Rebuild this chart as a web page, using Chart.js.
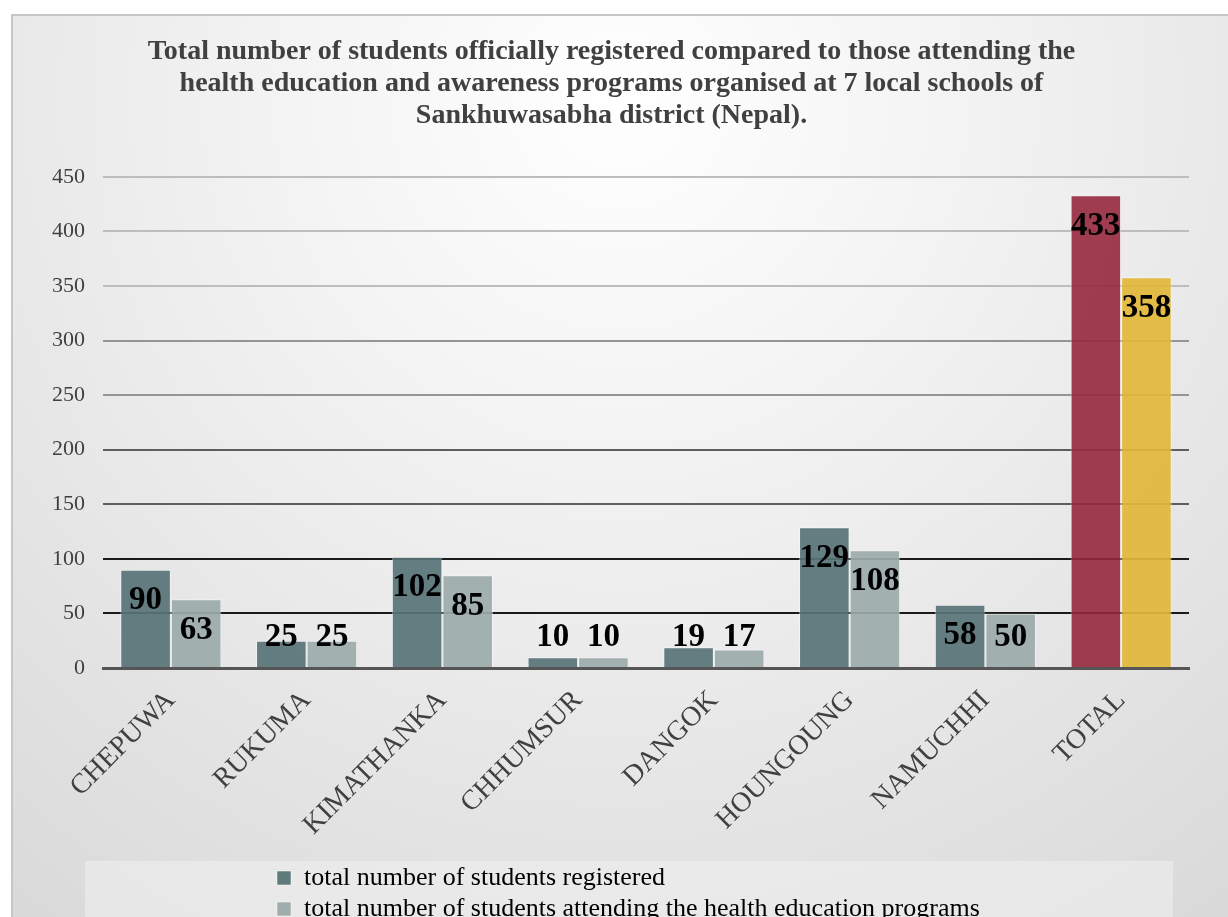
<!DOCTYPE html>
<html lang="en">
<head>
  <meta charset="UTF-8">
  <script src="https://cdn.jsdelivr.net/npm/chart.js"></script>
  <title>Students registered vs attending</title>
  <style>
    html, body { margin: 0; padding: 0; background: #ffffff; }
    #wrap { width: 1228px; height: 917px; }
  </style>
</head>
<body>
  <div id="wrap"><canvas id="chart"></canvas></div>
  <script>
    // data
    const schools = ['CHEPUWA', 'RUKUMA', 'KIMATHANKA', 'CHHUMSUR', 'DANGOK', 'HOUNGOUNG', 'NAMUCHHI', 'TOTAL'];
    const registered = [90, 25, 102, 10, 19, 129, 58, 433];
    const attending = [63, 25, 85, 10, 17, 108, 50, 358];
    const seriesNames = ['total number of students registered', 'total number of students attending the health education programs'];
    const titleLines = [
      'Total number of students officially registered compared to those attending the',
      'health education and awareness programs organised at 7 local schools of',
      'Sankhuwasabha district (Nepal).'
    ];

    const SERIF = '"Liberation Serif", "Times New Roman", serif';
    const regColors = schools.map((s, i) => i === schools.length - 1 ? 'rgba(150,40,62,0.9)' : 'rgba(88,115,118,0.92)');
    const attColors = schools.map((s, i) => i === schools.length - 1 ? 'rgba(226,182,56,0.92)' : 'rgba(156,170,170,0.92)');

    // page background, frame and the legend panel
    const backdrop = {
      id: 'backdrop',
      beforeDraw(chart) {
        const ctx = chart.ctx;
        const w = chart.width, h = chart.height;
        ctx.save();
        ctx.fillStyle = '#ffffff';
        ctx.fillRect(0, 0, w, h);
        const g = ctx.createRadialGradient(620, 100, 0, 620, 100, 1150);
        g.addColorStop(0, '#ffffff');
        g.addColorStop(0.3, '#f3f3f3');
        g.addColorStop(1, '#d4d4d4');
        ctx.fillStyle = g;
        ctx.fillRect(12, 15, w, h);
        ctx.strokeStyle = '#c6c6c6';
        ctx.lineWidth = 2;
        ctx.strokeRect(12, 15, w + 10, h + 10);
        ctx.fillStyle = 'rgba(240,240,240,0.55)';
        ctx.fillRect(85, 861, 1088, 60);
        ctx.restore();
      }
    };

    // put the legend rows where the original has them (stacked, left aligned)
    const legendPlace = {
      id: 'legendPlace',
      afterLayout(chart) {
        const lg = chart.legend;
        if (!lg) return;
        lg.left = 272;
        lg.right = 1040;
        lg.top = 860;
        lg.bottom = chart.height;
        lg.width = lg.right - lg.left;
        lg.height = lg.bottom - lg.top;
      }
    };

    // bold value labels, inside the top of each bar
    const valueLabels = {
      id: 'valueLabels',
      afterDatasetsDraw(chart) {
        const ctx = chart.ctx;
        ctx.save();
        ctx.font = 'bold 33px ' + SERIF;
        ctx.fillStyle = '#000000';
        ctx.textAlign = 'center';
        ctx.textBaseline = 'middle';
        chart.data.datasets.forEach((ds, di) => {
          chart.getDatasetMeta(di).data.forEach((bar, i) => {
            const y = Math.min(bar.y + 31, bar.base - 30);
            ctx.fillText(String(ds.data[i]), bar.x, y);
          });
        });
        ctx.restore();
      }
    };

    function gridColor(c) {
      const v = c.tick.value;
      if (v === 0) return 'rgba(0,0,0,0)';
      if (v <= 100) return '#1a1a1a';
      if (v <= 200) return '#5e5e5e';
      if (v <= 300) return '#959595';
      return '#bdbdbd';
    }

    new Chart(document.getElementById('chart'), {
      type: 'bar',
      data: {
        labels: schools,
        datasets: [
          { label: seriesNames[0], data: registered, backgroundColor: regColors, borderColor: 'rgba(255,255,255,0.45)', borderWidth: 1 },
          { label: seriesNames[1], data: attending, backgroundColor: attColors, borderColor: 'rgba(255,255,255,0.45)', borderWidth: 1 }
        ]
      },
      options: {
        responsive: true,
        maintainAspectRatio: false,
        animation: false,
        categoryPercentage: 0.745,
        barPercentage: 1.0,
        layout: { padding: { left: 34, right: 39, top: 20, bottom: 26 } },
        plugins: {
          title: {
            display: true,
            text: titleLines,
            color: '#404040',
            font: { family: SERIF, size: 28, weight: 'bold', lineHeight: 1.14 },
            padding: { top: 16, bottom: 45 }
          },
          legend: {
            position: 'bottom',
            align: 'start',
            labels: {
              color: '#404040',
              font: { family: SERIF, size: 26 },
              boxWidth: 14,
              boxHeight: 14,
              padding: 5,
              generateLabels(chart) {
                return chart.data.datasets.map((ds, i) => ({
                  text: ds.label,
                  fillStyle: i === 0 ? '#5f7a7b' : '#a0adac',
                  strokeStyle: 'rgba(255,255,255,0.5)',
                  lineWidth: 1,
                  datasetIndex: i,
                  hidden: false
                }));
              }
            }
          },
          tooltip: { enabled: false }
        },
        scales: {
          x: {
            grid: { display: false },
            border: { display: true, color: '#555555', width: 3 },
            ticks: {
              color: '#404040',
              font: { family: SERIF, size: 28 },
              minRotation: 45,
              maxRotation: 45,
              padding: 8
            }
          },
          y: {
            min: 0,
            max: 450,
            grid: { color: gridColor, lineWidth: 2, drawTicks: false },
            border: { display: false },
            ticks: {
              stepSize: 50,
              color: '#404040',
              font: { family: SERIF, size: 22 },
              padding: 18
            }
          }
        }
      },
      plugins: [backdrop, legendPlace, valueLabels]
    });
  </script>
</body>
</html>
